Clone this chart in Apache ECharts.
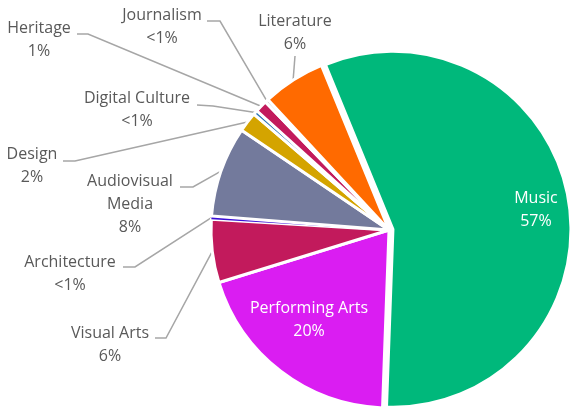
<!DOCTYPE html>
<html>
<head>
<meta charset="utf-8">
<script src="https://cdn.jsdelivr.net/npm/echarts@6/dist/echarts.min.js"></script>
<style>
html,body{margin:0;padding:0;background:#ffffff;}
#chart{width:570px;height:410px;}
</style>
</head>
<body>
<div id="chart"></div>
<script>
// ---- data ----
const categories = ['Music','Performing Arts','Visual Arts','Architecture','Audiovisual Media','Design','Digital Culture','Heritage','Journalism','Literature'];
const values = [56.6, 19.6, 5.7, 0.3, 8.2, 1.8, 0.4, 1.1, 0.3, 5.7];
const labelNames = ['Music','Performing Arts','Visual Arts','Architecture','Audiovisual\nMedia','Design','Digital Culture','Heritage','Journalism','Literature'];
const colors = ['#00B87B','#DA1DF2','#C21A5C','#3A0FD6','#737A9C','#D4A400','#2E75B6','#C21A5C','#8C8C8C','#FF6A00'];
const insideLabels = ['Music','Performing Arts'];
const explodedSlices = ['Music'];

// ---- label placement (text centre, leader elbow and end) ----
const labelPos = {
  'Music':            {x:533, y:210},
  'Performing Arts':  {x:309, y:320},
  'Visual Arts':      {x:110, y:345, elbow:[166,338], end:[155,338]},
  'Architecture':     {x:70,  y:274, elbow:[135,267], end:[123,267]},
  'Audiovisual Media':{x:130, y:204, elbow:[193,187], end:[180,187]},
  'Design':           {x:32,  y:166, elbow:[75,161],  end:[63,161]},
  'Digital Culture':  {x:137, y:110, elbow:[213,106], end:[197,105]},
  'Heritage':         {x:39,  y:40,  elbow:[88,34],   end:[77,34]},
  'Journalism':       {x:162, y:27,  elbow:[220,21],  end:[207,21]},
  'Literature':       {x:295, y:33,  elbow:[295,56],  end:[295,56]}
};

const CX = 389, CY = 230, R = 178, START = 112.3, OFFSET = 4;
const total = values.reduce((a,b)=>a+b,0);
function midAngle(i){
  let cum = 0;
  for (let k=0;k<i;k++) cum += values[k];
  return (START - 360*(cum + values[i]/2)/total) * Math.PI/180;
}
function edgePoint(i){
  const a = midAngle(i);
  return [CX + R*Math.cos(a), CY - R*Math.sin(a)];
}

const data = categories.map((c,i)=>{
  const d = {name:c, value:values[i], itemStyle:{color:colors[i]}};
  if (insideLabels.indexOf(c) >= 0) {
    d.label = {position:'inside', color:'#ffffff'};
    d.labelLine = {show:false};
  }
  if (explodedSlices.indexOf(c) >= 0) d.selected = true;
  if (c === 'Architecture') d.itemStyle.borderWidth = 0;
  return d;
});

const chart = echarts.init(document.getElementById('chart'), null, {renderer:'canvas'});
chart.setOption({
  animation:false,
  backgroundColor:'#ffffff',
  series:[{
    type:'pie',
    center:[CX, CY],
    radius:R,
    startAngle:START,
    clockwise:true,
    avoidLabelOverlap:false,
    selectedMode:'multiple',
    selectedOffset:OFFSET,
    data:data,
    itemStyle:{borderColor:'#ffffff', borderWidth:3},
    label:{
      show:true,
      position:'outside',
      fontFamily:'Open Sans',
      fontSize:16,
      lineHeight:23,
      color:'#595959',
      align:'center',
      formatter:function(p){
        const pct = p.percent < 1 ? '<1%' : Math.round(p.percent) + '%';
        return labelNames[p.dataIndex] + '\n' + pct;
      }
    },
    labelLine:{show:true, lineStyle:{color:'#A6A6A6', width:1.5}},
    labelLayout:function(p){
      const name = categories[p.dataIndex];
      const L = labelPos[name];
      if (explodedSlices.indexOf(name) >= 0) {
        // selected slice: shift from its default inside anchor
        const a = midAngle(p.dataIndex);
        const ax = CX + (R/2 + OFFSET)*Math.cos(a), ay = CY - (R/2 + OFFSET)*Math.sin(a);
        return {dx: L.x - ax, dy: L.y - ay};
      }
      const out = {x:L.x, y:L.y, align:'center', verticalAlign:'middle'};
      if (L.elbow) {
        const p0 = (p.labelLinePoints && p.labelLinePoints[0]) ? p.labelLinePoints[0] : edgePoint(p.dataIndex);
        out.labelLinePoints = [p0, L.elbow, L.end];
      }
      return out;
    }
  }]
});
</script>
</body>
</html>
